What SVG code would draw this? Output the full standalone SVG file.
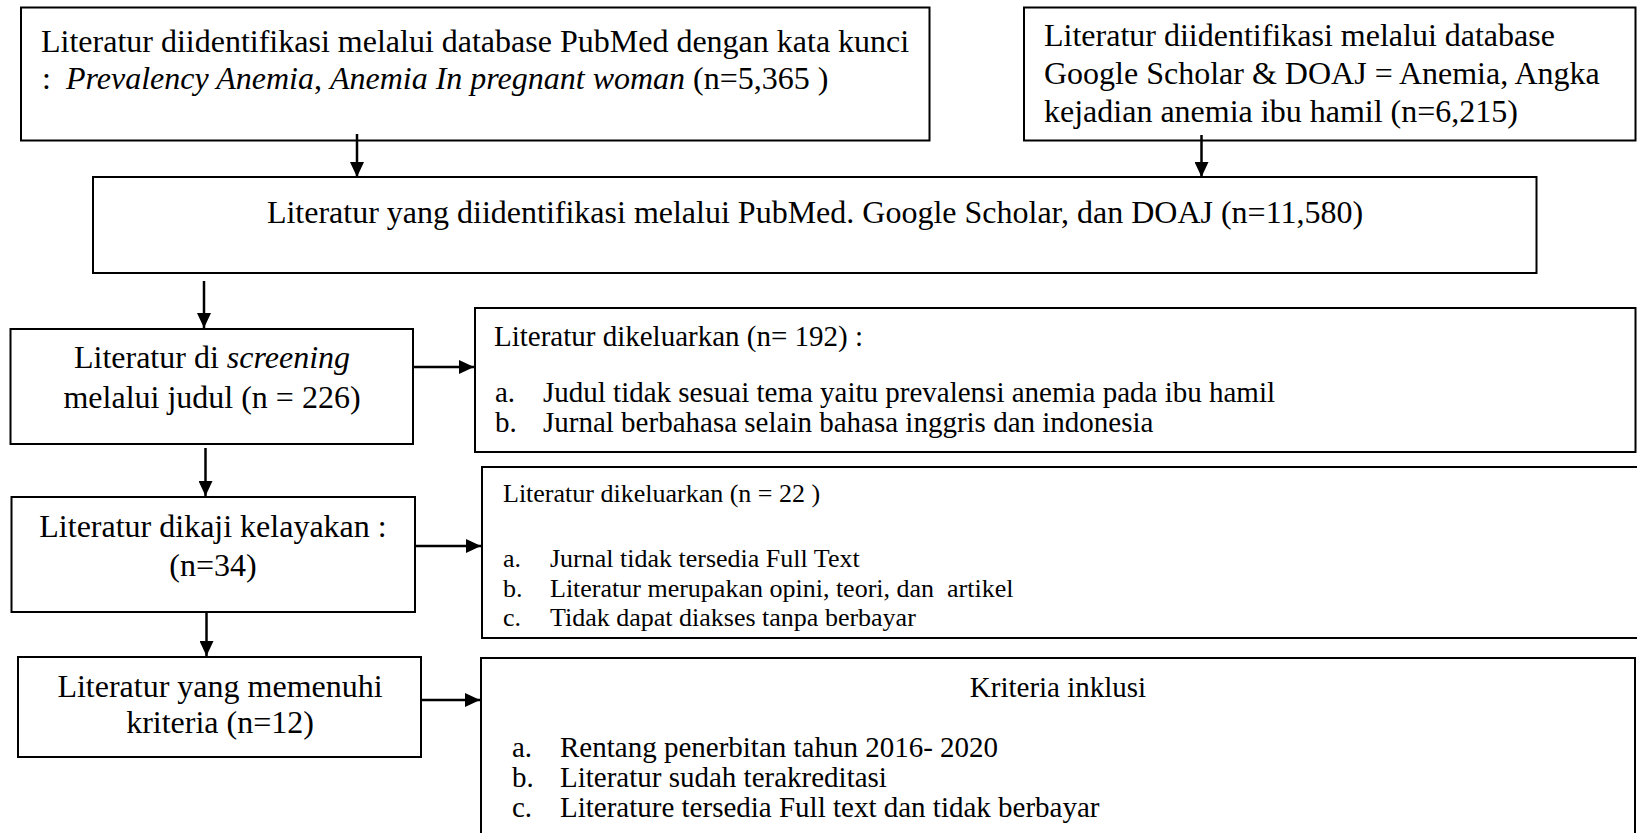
<svg xmlns="http://www.w3.org/2000/svg" width="1637" height="833" viewBox="0 0 1637 833">
<style>
.box{fill:#fff;stroke:#000;stroke-width:2}
text{font-family:"Liberation Serif","Times New Roman",serif;fill:#000}
.big{font-size:32px}
.mid{font-size:29px}
.sm{font-size:26px}
.c{text-anchor:middle}
.conn{stroke:#000;stroke-width:2.5;fill:none}
</style>
<defs>
<marker id="ah" markerUnits="userSpaceOnUse" markerWidth="15" markerHeight="14" refX="15" refY="7" orient="auto">
<path d="M0,0 L15,7 L0,14 z" fill="#000"/>
</marker>
</defs>
<rect width="1637" height="833" fill="#fff"/>
<g id="n1">
<rect class="box" x="21" y="7.5" width="908.5" height="133"/>
<text class="big" x="41" y="52">Literatur diidentifikasi melalui database PubMed dengan kata kunci</text>
<text class="big" x="42" y="89">:<tspan x="66" font-style="italic">Prevalency Anemia</tspan>, <tspan font-style="italic">Anemia In pregnant woman</tspan> (n=5,365 )</text>
</g>
<g id="n2">
<rect class="box" x="1024" y="7.5" width="611.5" height="133"/>
<text class="big" x="1044" y="46">Literatur diidentifikasi melalui database</text>
<text class="big" x="1044" y="84">Google Scholar &amp; DOAJ = Anemia, Angka</text>
<text class="big" x="1044" y="122">kejadian anemia ibu hamil (n=6,215)</text>
</g>
<g id="n3">
<rect class="box" x="93" y="177" width="1443.5" height="96"/>
<text class="big c" x="815" y="223">Literatur yang diidentifikasi melalui PubMed. Google Scholar, dan DOAJ (n=11,580)</text>
</g>
<g id="n4">
<rect class="box" x="10.5" y="329" width="402.5" height="115"/>
<text class="big c" x="212" y="368">Literatur di <tspan font-style="italic">screening</tspan></text>
<text class="big c" x="212" y="408">melalui judul (n = 226)</text>
</g>
<g id="n5">
<rect class="box" x="475" y="308" width="1160.5" height="144"/>
<text class="mid" x="494" y="346">Literatur dikeluarkan (n= 192) :</text>
<text class="mid" x="495" y="402">a.<tspan x="543">Judul tidak sesuai tema yaitu prevalensi anemia pada ibu hamil</tspan></text>
<text class="mid" x="495" y="432">b.<tspan x="543">Jurnal berbahasa selain bahasa inggris dan indonesia</tspan></text>
</g>
<g id="n6">
<rect class="box" x="11.5" y="497" width="403.5" height="115"/>
<text class="big c" x="213" y="537">Literatur dikaji kelayakan :</text>
<text class="big c" x="213" y="576">(n=34)</text>
</g>
<g id="n7">
<rect class="box" x="482" y="467" width="1165" height="171"/>
<text class="sm" x="503" y="502">Literatur dikeluarkan (n = 22 )</text>
<text class="sm" x="503" y="567">a.<tspan x="550">Jurnal tidak tersedia Full Text</tspan></text>
<text class="sm" x="503" y="597">b.<tspan x="550">Literatur merupakan opini, teori, dan&#160; artikel</tspan></text>
<text class="sm" x="503" y="626">c.<tspan x="550">Tidak dapat diakses tanpa berbayar</tspan></text>
</g>
<g id="n8">
<rect class="box" x="18" y="657" width="403" height="100"/>
<text class="big c" x="220" y="697">Literatur yang memenuhi</text>
<text class="big c" x="220" y="733">kriteria (n=12)</text>
</g>
<g id="n9">
<rect class="box" x="481" y="658" width="1154" height="190"/>
<text class="mid c" x="1058" y="697">Kriteria inklusi</text>
<text class="mid" x="512" y="757">a.<tspan x="560">Rentang penerbitan tahun 2016- 2020</tspan></text>
<text class="mid" x="512" y="787">b.<tspan x="560">Literatur sudah terakreditasi</tspan></text>
<text class="mid" x="512" y="817">c.<tspan x="560">Literature tersedia Full text dan tidak berbayar</tspan></text>
</g>
<g id="connectors">
<line class="conn" x1="357" y1="134" x2="357" y2="177" marker-end="url(#ah)"/>
<line class="conn" x1="1201.5" y1="135" x2="1201.5" y2="177" marker-end="url(#ah)"/>
<line class="conn" x1="204" y1="281" x2="204" y2="328" marker-end="url(#ah)"/>
<line class="conn" x1="205.5" y1="448" x2="205.5" y2="496" marker-end="url(#ah)"/>
<line class="conn" x1="206.5" y1="612" x2="206.5" y2="656" marker-end="url(#ah)"/>
<line class="conn" x1="413" y1="367" x2="474" y2="367" stroke-width="3" marker-end="url(#ah)"/>
<line class="conn" x1="415" y1="546" x2="481" y2="546" stroke-width="3" marker-end="url(#ah)"/>
<line class="conn" x1="421" y1="700" x2="480" y2="700" stroke-width="3" marker-end="url(#ah)"/>
</g>
</svg>
